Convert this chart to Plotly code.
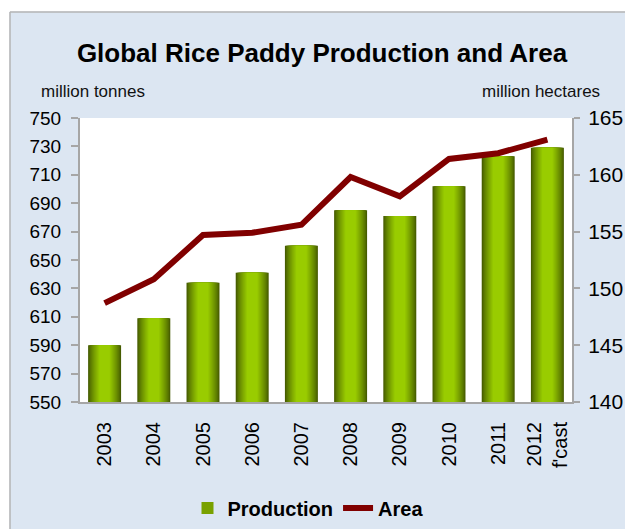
import plotly.graph_objects as go

# ---- data ----
years = ["2003", "2004", "2005", "2006", "2007", "2008", "2009", "2010", "2011", "2012<br>f'cast"]
production = [590, 609, 634, 641, 660, 685, 681, 702, 723, 729]   # million tonnes
area = [148.7, 150.8, 154.7, 154.9, 155.6, 159.8, 158.1, 161.4, 161.9, 163.1]  # million hectares

# ---- layout geometry (page pixels; page body has an 8px margin) ----
OFF = 8
W, H = 633 - OFF, 529 - OFF
L, R, T, B = 80 - OFF, 572 - OFF, 118 - OFF, 402 - OFF
def px2x(p):
    return (p - OFF - L) / (R - L)
def px2y(p):
    return (B - (p - OFF)) / (B - T)

FONT = "Liberation Sans, Arial, sans-serif"
BG = "#dce6f2"

fig = go.Figure()

# gradient bars simulated by overlaid bars of decreasing width
dark = (70, 92, 0)
bright = (153, 204, 0)
N = 12
full_w = 0.67
for k in range(N):
    t = k / (N - 1)
    w = full_w * (1 - 0.68 * t)
    c = tuple(int(round(dark[i] + (bright[i] - dark[i]) * (t ** 0.8))) for i in range(3))
    fig.add_trace(go.Bar(
        x=years, y=production, width=w,
        marker=dict(color="rgb(%d,%d,%d)" % c, line=dict(width=0)),
        name="Production", showlegend=(k == N // 2), legendgroup="prod",
        hoverinfo="skip" if k else None,
    ))

fig.add_trace(go.Scatter(
    x=years, y=area, yaxis="y2", mode="lines", name="Area",
    line=dict(color="#800000", width=6),
))

shapes = [
    dict(type="rect", xref="paper", yref="paper", x0=px2x(0), x1=px2x(660), y0=px2y(0), y1=px2y(11.5),
         fillcolor="white", line=dict(width=0), layer="below"),
    dict(type="rect", xref="paper", yref="paper", x0=px2x(0), x1=px2x(9.5), y0=px2y(560), y1=px2y(0),
         fillcolor="white", line=dict(width=0), layer="below"),
    dict(type="line", xref="paper", yref="paper", x0=px2x(10), x1=px2x(660), y0=px2y(12), y1=px2y(12),
         line=dict(color="#b4b4b4", width=1.5)),
    dict(type="line", xref="paper", yref="paper", x0=px2x(10), x1=px2x(10), y0=px2y(12), y1=px2y(560),
         line=dict(color="#b4b4b4", width=1.5)),
]

annotations = [
    dict(text="million tonnes", x=px2x(93), y=px2y(91), xref="paper", yref="paper",
         showarrow=False, font=dict(family=FONT, size=17, color="#111111"), xanchor="center", yanchor="middle"),
    dict(text="million hectares", x=px2x(541), y=px2y(92), xref="paper", yref="paper",
         showarrow=False, font=dict(family=FONT, size=17, color="#111111"), xanchor="center", yanchor="middle"),
]

axis_line = "#a6a6a6"
fig.update_layout(
    width=W, height=H,
    margin=dict(l=L, r=W - R, t=T, b=H - B, pad=0, autoexpand=False),
    paper_bgcolor=BG, plot_bgcolor="white",
    barmode="overlay", bargap=0.33,
    title=dict(text="<b>Global Rice Paddy Production and Area</b>", x=(322 - OFF) / W, xanchor="center",
               y=1 - (53 - OFF) / H, yanchor="middle", font=dict(family=FONT, size=26, color="black")),
    font=dict(family=FONT, color="black"),
    xaxis=dict(showline=True, linecolor=axis_line, linewidth=2, ticks="", tickangle=-90,
               tickfont=dict(size=20, family=FONT, color="black"), ticklabelstandoff=10,
               showgrid=False, zeroline=False),
    yaxis=dict(range=[550, 750], dtick=20, tick0=550, showline=True, linecolor=axis_line, linewidth=2,
               ticks="outside", ticklen=7, tickwidth=1.5, tickcolor=axis_line,
               tickfont=dict(size=19, family=FONT, color="black"), ticklabelstandoff=6,
               showgrid=False, zeroline=False),
    yaxis2=dict(range=[140, 165], dtick=5, tick0=140, overlaying="y", side="right",
                showline=True, linecolor=axis_line, linewidth=2,
                ticks="outside", ticklen=6, tickwidth=1.5, tickcolor=axis_line,
                tickfont=dict(size=21, family=FONT, color="black"), ticklabelstandoff=4,
                showgrid=False, zeroline=False),
    legend=dict(orientation="h", x=px2x(308), y=px2y(508), xanchor="center", yanchor="middle",
                font=dict(family=FONT, size=20, color="black"), bgcolor="rgba(0,0,0,0)",
                traceorder="normal"),
    shapes=shapes, annotations=annotations,
)
fig.for_each_trace(lambda t: t.update(name="<b>%s</b>" % t.name))

fig.write_html("out.html")
